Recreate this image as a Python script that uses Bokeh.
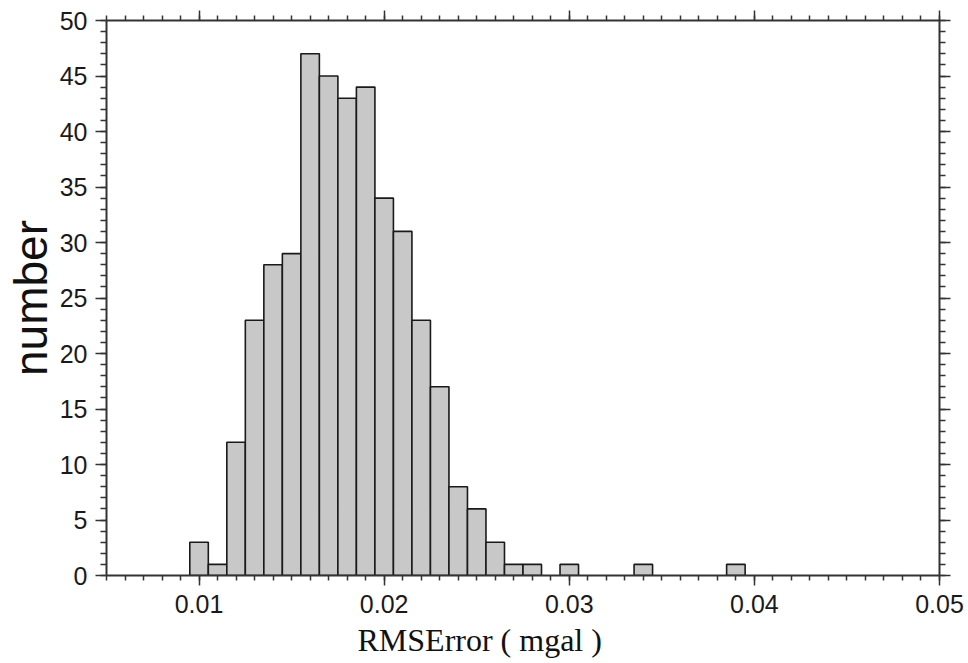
import numpy as np
from bokeh.plotting import figure
from bokeh.models import (LinearAxis, FixedTicker, PrintfTickFormatter,
                          CustomJSTickFormatter, Title, Range1d, ColumnDataSource)
from bokeh.embed import file_html
from bokeh.resources import INLINE

# data: histogram of RMS error (bin centres, width 0.001)
bin_centers = [0.010, 0.011, 0.012, 0.013, 0.014, 0.015, 0.016, 0.017, 0.018,
               0.019, 0.020, 0.021, 0.022, 0.023, 0.024, 0.025, 0.026, 0.027,
               0.028, 0.030, 0.034, 0.039]
counts = [3, 1, 12, 23, 28, 29, 47, 45, 43, 44, 34, 31, 23, 17, 8, 6, 3, 1,
          1, 1, 1, 1]
bin_width = 0.001
x_ticks = [0.01, 0.02, 0.03, 0.04, 0.05]
y_ticks = [0, 5, 10, 15, 20, 25, 30, 35, 40, 45, 50]
x_title = "RMSError ( mgal )"
y_title = "number"

p = figure(width=968, height=663, output_backend="svg", toolbar_location=None,
           x_range=Range1d(0.005, 0.05), y_range=Range1d(0, 50),
           min_border_left=106, min_border_right=29, min_border_top=20,
           min_border_bottom=88, x_axis_location=None, y_axis_location=None)
p.xgrid.visible = False
p.ygrid.visible = False
p.outline_line_color = None
p.background_fill_color = "white"
p.border_fill_color = "white"

src = ColumnDataSource(dict(x=bin_centers, top=counts))
p.vbar(x="x", top="top", width=bin_width, bottom=0, source=src,
       fill_color="#c8c8c8", line_color="#1a1a1a", line_width=1.6)

minor_x = list(np.round(np.arange(0.005, 0.0505, 0.001), 4))
minor_y = list(range(0, 51))
axis_color = "#333333"
tick_font = "Liberation Sans"


def style(ax, major_out, minor_out, labels=True, standoff=10):
    ax.axis_line_width = 2
    ax.axis_line_color = axis_color
    ax.major_tick_line_color = axis_color
    ax.minor_tick_line_color = axis_color
    ax.major_tick_line_width = 1.5
    ax.minor_tick_line_width = 1.5
    ax.major_tick_out = major_out
    ax.major_tick_in = 0
    ax.minor_tick_out = minor_out
    ax.minor_tick_in = 0
    ax.major_label_text_font = tick_font
    ax.major_label_text_color = "#1a1a1a"
    if labels:
        ax.major_label_text_font_size = "25px"
        ax.major_label_standoff = standoff
    else:
        ax.formatter = CustomJSTickFormatter(code="return '';")
        ax.major_label_text_font_size = "1px"
        ax.major_label_standoff = 0
    return ax


# labelled axes
xb = style(LinearAxis(ticker=FixedTicker(ticks=x_ticks, minor_ticks=minor_x),
                      formatter=PrintfTickFormatter(format="%.2f")), 10, 5, standoff=9)
yl = style(LinearAxis(ticker=FixedTicker(ticks=y_ticks, minor_ticks=minor_y)), 11, 6,
           standoff=8)
yl.axis_label = y_title
yl.axis_label_text_font = "Liberation Sans"
yl.axis_label_text_font_size = "46px"
yl.axis_label_text_font_style = "normal"
yl.axis_label_text_color = "#111111"
yl.axis_label_standoff = 0
p.add_layout(xb, "below")
p.add_layout(yl, "left")

# unlabelled axes on top and right
xt = style(LinearAxis(ticker=FixedTicker(ticks=x_ticks, minor_ticks=minor_x)), 10, 5, False)
yr = style(LinearAxis(ticker=FixedTicker(ticks=y_ticks, minor_ticks=minor_y)), 11, 6, False)
p.add_layout(xt, "above")
p.add_layout(yr, "right")

p.add_layout(Title(text=x_title, text_font="Liberation Serif",
                   text_font_size="32px", text_font_style="normal",
                   text_color="#111111", align="left", offset=251,
                   standoff=9), "below")

open("out.html", "w").write(file_html(p, INLINE))
